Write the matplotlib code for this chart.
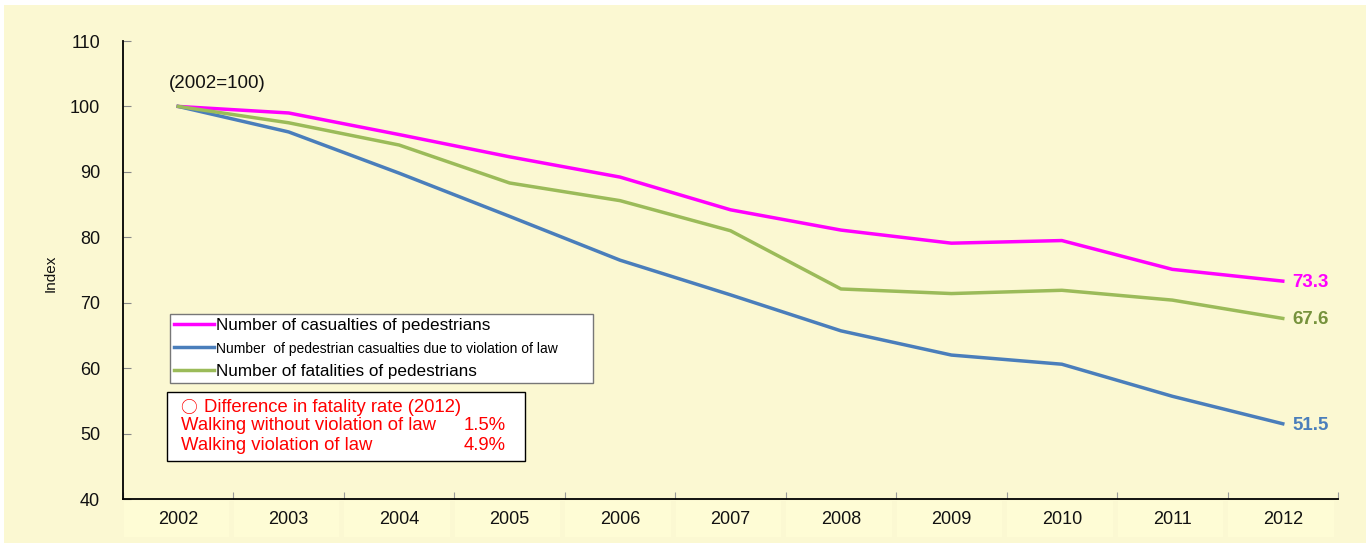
import matplotlib
matplotlib.use("Agg")
import matplotlib.pyplot as plt
from matplotlib.patches import Rectangle
from matplotlib.lines import Line2D
import matplotlib.transforms as mtransforms

plt.rcParams['font.family'] = ['Liberation Sans', 'DejaVu Sans']

years = ['2002', '2003', '2004', '2005', '2006', '2007', '2008', '2009', '2010', '2011', '2012']
casualties = [100, 99.0, 95.7, 92.3, 89.2, 84.2, 81.1, 79.1, 79.5, 75.1, 73.3]
violation = [100, 96.1, 89.8, 83.2, 76.5, 71.2, 65.7, 62.0, 60.6, 55.7, 51.5]
fatalities = [100, 97.5, 94.1, 88.3, 85.6, 81.0, 72.1, 71.4, 71.9, 70.4, 67.6]

series_labels = ['Number of casualties of pedestrians',
                 'Number  of pedestrian casualties due to violation of law',
                 'Number of fatalities of pedestrians']
colors = ['#FF00FF', '#4A7EBB', '#9BBB59']
end_colors = ['#FF00FF', '#4A7EBB', '#76923C']

note_title = 'Difference in fatality rate (2012)'
note_rows = [('Walking without violation of law', '1.5%'),
             ('Walking violation of law', '4.9%')]

bg = '#FBF8D2'
W, H = 1370, 545

fig = plt.figure(figsize=(W / 100, H / 100), dpi=100, facecolor='white')
# yellow panel behind everything
fig.patches.append(Rectangle((4 / W, 1 - 543 / H), 1362 / W, 538 / H,
                             transform=fig.transFigure, facecolor=bg,
                             edgecolor='none', zorder=-10))

ax = fig.add_axes([123 / W, 1 - 499 / H, 1215 / W, 458 / H])
ax.patch.set_alpha(0)

x = list(range(len(years)))
for vals, c in zip([casualties, violation, fatalities], colors):
    ax.plot(x, vals, color=c, lw=2.5, solid_joinstyle='round', zorder=3)

ax.set_xlim(-0.5, len(years) - 0.5)
ax.set_ylim(40, 110)
ax.set_yticks(range(40, 111, 10))
ax.tick_params(axis='y', direction='in', length=6, color='#888888',
               labelsize=13, pad=16.5, labelcolor='#111111')
ax.set_xticks([k + 0.5 for k in range(-1, len(years))])
ax.set_xticklabels([])
ax.tick_params(axis='x', direction='in', length=5, color='#999999')
for s in ['top', 'right']:
    ax.spines[s].set_visible(False)
for s in ['left', 'bottom']:
    ax.spines[s].set_linewidth(1.3)
    ax.spines[s].set_color('black')

ax.set_ylabel('Index', fontsize=11, color='#111111')
ax.yaxis.set_label_coords(-0.054, 0.493)

# year cells under the axis
trans = mtransforms.blended_transform_factory(ax.transData, ax.transAxes)
cell_h = 36 / 458
for i, yr in enumerate(years):
    ax.add_patch(Rectangle((i - 0.5 + 0.005, -2 / 458 - cell_h), 0.955, cell_h,
                           transform=trans, facecolor='#FEFCD5',
                           edgecolor='none', clip_on=False, zorder=1))
    ax.text(i, -2 / 458 - cell_h / 2, yr, transform=trans, ha='center',
            va='center', fontsize=13, color='#111111')

fig.text(169 / W, 1 - 83 / H, '(2002=100)', ha='left', va='center',
         fontsize=13.5, color='#111111')

# end-of-line values
for vals, c in zip([casualties, fatalities, violation],
                   [end_colors[0], end_colors[2], end_colors[1]]):
    ax.annotate(f'{vals[-1]:.1f}', (x[-1], vals[-1]), xytext=(7, -1),
                textcoords='offset points', ha='left', va='center',
                fontsize=13.5, fontweight='bold', color=c)

# legend
handles = [Line2D([], [], color=c, lw=2.5) for c in colors]
leg = fig.legend(handles, series_labels, loc='upper left',
                 bbox_to_anchor=(170 / W, 1 - 384 / H, 423 / W, 70 / H),
                 mode='expand', frameon=True, fancybox=False, fontsize=12.3,
                 framealpha=1.0, handlelength=2.3, handletextpad=0.15,
                 labelspacing=0.45, borderpad=0.25, borderaxespad=0)
leg.get_frame().set_edgecolor('#777777')
leg.get_frame().set_facecolor('white')
leg.get_frame().set_linewidth(1.0)
leg.get_texts()[1].set_fontsize(10)
leg._legend_box.align = 'left'

# fatality rate note
fig.patches.append(Rectangle((167 / W, 1 - 461 / H), 358 / W, 69 / H,
                             transform=fig.transFigure, facecolor='white',
                             edgecolor='black', lw=1.0, zorder=5))
fig.text(180 / W, 1 - 408 / H, '\u25cb', color='#FF0000', fontsize=12,
         family=['Noto Sans CJK JP', 'DejaVu Sans'], va='center', ha='left',
         zorder=6)
fig.text(204 / W, 1 - 408 / H, note_title, color='#FF0000', fontsize=13.3,
         va='center', ha='left', zorder=6)
for k, (label, val) in enumerate(note_rows):
    yy = 1 - (426 + 20 * k) / H
    fig.text(181 / W, yy, label, color='#FF0000', fontsize=13.3,
             va='center', ha='left', zorder=6)
    fig.text(506 / W, yy, val, color='#FF0000', fontsize=13.3,
             va='center', ha='right', zorder=6)

fig.savefig('out.png', dpi=100, facecolor='white')
